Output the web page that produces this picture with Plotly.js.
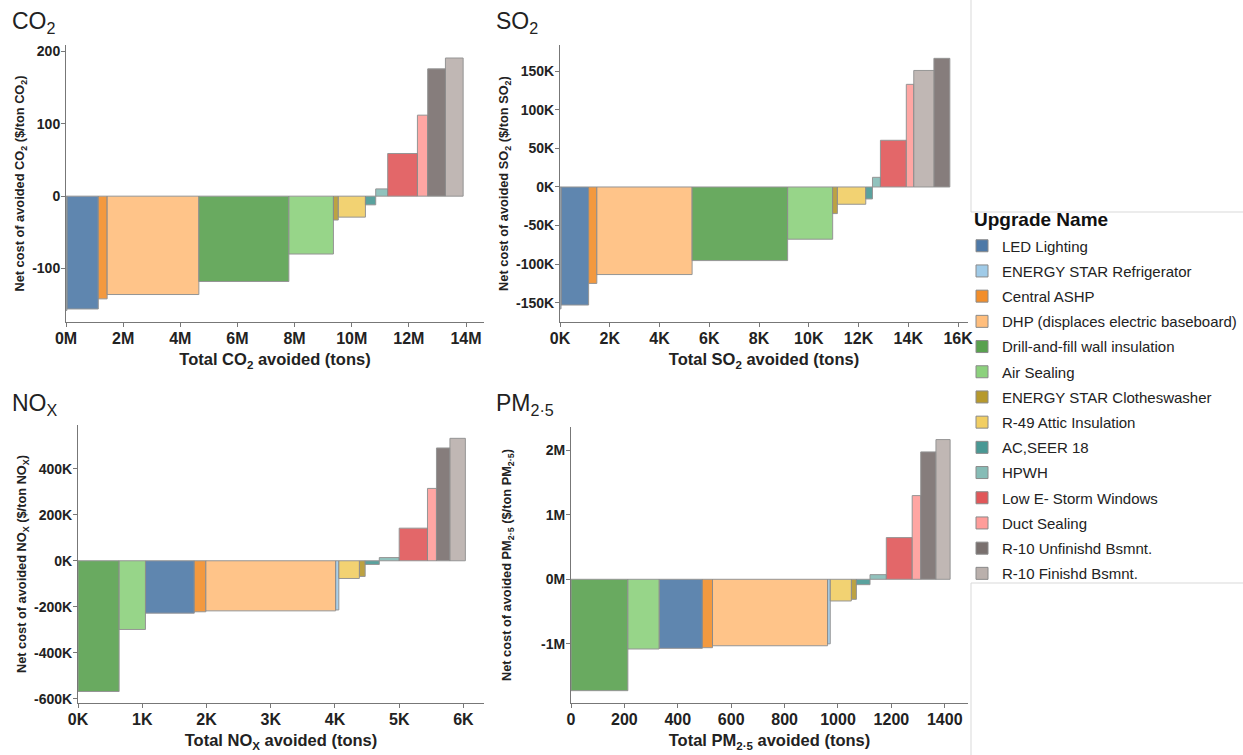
<!DOCTYPE html>
<html>
<head>
<meta charset="utf-8">
<script src="https://cdn.plot.ly/plotly-3.0.1.min.js"></script>
<style>html,body{margin:0;padding:0;background:#fff;width:1243px;height:755px;overflow:hidden;}#chart{width:1243px;height:755px;overflow:hidden;}</style>
</head>
<body>
<div id="chart"></div>
<script>
// Upgrade names (legend order) and colours
const upgrades = [
  "LED Lighting",
  "ENERGY STAR Refrigerator",
  "Central ASHP",
  "DHP (displaces electric baseboard)",
  "Drill-and-fill wall insulation",
  "Air Sealing",
  "ENERGY STAR Clotheswasher",
  "R-49 Attic Insulation",
  "AC,SEER 18",
  "HPWH",
  "Low E- Storm Windows",
  "Duct Sealing",
  "R-10 Unfinishd Bsmnt.",
  "R-10 Finishd Bsmnt."
];
const colors = ["#4e79a7","#a0cbe8","#f28e2b","#ffbe7d","#59a14f","#8cd17d","#b6992d",
                "#f1ce63","#499894","#86bcb6","#e15759","#ff9d9a","#79706e","#bab0ac"];

// CO2: tons avoided and net cost ($/ton), legend order
const co2Avoided = [1100000, 30000, 310000, 3210000, 3150000, 1560000, 170000, 950000, 360000, 420000, 1040000, 360000, 620000, 620000];
const co2Cost    = [-156, -158, -142, -136, -118, -80, -33, -29, -12, 10, 59, 112, 176, 191];

// SO2
const so2Avoided = [1110, 40, 330, 3830, 3840, 1810, 190, 1140, 270, 320, 1040, 300, 640, 810];
const so2Cost    = [-153000, -158000, -125000, -113500, -95400, -67700, -34500, -22400, -15500, 12500, 60500, 133000, 166700, 151000];

// NOx
const noxAvoided = [760, 50, 180, 2020, 640, 410, 90, 320, 220, 310, 440, 140, 210, 240];
const noxCost    = [-228000, -214000, -222000, -218000, -569000, -299000, -68000, -77000, -16000, 14000, 142000, 315000, 491000, 533000];

// PM2.5
const pmAvoided = [162, 10, 38, 431, 213, 117, 19, 79, 51, 61, 97, 32, 57, 53];
const pmCost    = [-1070000, -1000000, -1060000, -1030000, -1726000, -1080000, -310000, -336000, -83000, 72000, 646000, 1297000, 1974000, 2165000];

// Tick labels
const co2XVals = [0,2e6,4e6,6e6,8e6,10e6,12e6,14e6];
const co2XText = ["0M","2M","4M","6M","8M","10M","12M","14M"];
const co2YVals = [-100,0,100,200];
const co2YText = ["-100","0","100","200"];
const so2XVals = [0,2000,4000,6000,8000,10000,12000,14000,16000];
const so2XText = ["0K","2K","4K","6K","8K","10K","12K","14K","16K"];
const so2YVals = [-150000,-100000,-50000,0,50000,100000,150000];
const so2YText = ["-150K","-100K","-50K","0K","50K","100K","150K"];
const noxXVals = [0,1000,2000,3000,4000,5000,6000];
const noxXText = ["0K","1K","2K","3K","4K","5K","6K"];
const noxYVals = [-600000,-400000,-200000,0,200000,400000];
const noxYText = ["-600K","-400K","-200K","0K","200K","400K"];
const pmXVals = [0,200,400,600,800,1000,1200,1400];
const pmXText = ["0","200","400","600","800","1000","1200","1400"];
const pmYVals = [-1000000,0,1000000,2000000];
const pmYText = ["-1M","0M","1M","2M"];

const FONT = "Arial, 'Liberation Sans', sans-serif";

function panel(avoided, cost, xa, ya, showlegend) {
  const order = avoided.map((_, i) => i).sort((a, b) => cost[a] - cost[b]);
  const start = {};
  let acc = 0;
  order.forEach(i => { start[i] = acc; acc += avoided[i]; });
  return upgrades.map((name, i) => ({
    type: "bar",
    name: name,
    legendgroup: name,
    showlegend: showlegend,
    x: [start[i] + avoided[i] / 2],
    y: [cost[i]],
    width: [avoided[i]],
    xaxis: xa, yaxis: ya,
    marker: { color: colors[i], opacity: 0.9, line: { color: "#8a8a8a", width: 1 } },
    hovertemplate: name + "<br>Avoided: %{width}<br>Cost: %{y}<extra></extra>"
  }));
}

const data = [].concat(
  panel(co2Avoided, co2Cost, "x", "y", true),
  panel(so2Avoided, so2Cost, "x2", "y2", false),
  panel(noxAvoided, noxCost, "x3", "y3", false),
  panel(pmAvoided, pmCost, "x4", "y4", false)
);

const W = 1243, H = 755;
function xd(a, b) { return [a / W, b / W]; }
function yd(top, bottom) { return [1 - bottom / H, 1 - top / H]; }

function xaxis(dom, range, vals, text, title, anchor) {
  return {
    domain: dom, range: range, anchor: anchor,
    tickmode: "array", tickvals: vals, ticktext: text,
    showgrid: false, zeroline: false, showline: true, linecolor: "#777", linewidth: 1,
    ticks: "outside", ticklen: 4, tickcolor: "#777",
    ticklabelstandoff: -2,
    tickfont: { family: FONT, size: 16, color: "#222", weight: "bold" },
    title: { text: title, font: { family: FONT, size: 16.5, color: "#222", weight: "bold" }, standoff: 7 },
    automargin: false, fixedrange: true
  };
}
function yaxis(dom, range, vals, text, title, anchor, standoff) {
  return {
    domain: dom, range: range, anchor: anchor,
    tickmode: "array", tickvals: vals, ticktext: text,
    showgrid: false, zeroline: false, showline: true, linecolor: "#777", linewidth: 1,
    ticks: "outside", ticklen: 4, tickcolor: "#777",
    ticklabelstandoff: -2,
    tickfont: { family: FONT, size: 14, color: "#222", weight: "bold" },
    title: { text: title, font: { family: FONT, size: 12.8, color: "#222", weight: "bold" }, standoff: standoff },
    automargin: false, fixedrange: true
  };
}

const lineStyle = { color: "#d9d9d9", width: 1 };
const layout = {
  width: W, height: H,
  margin: { l: 0, r: 0, t: 0, b: 0 },
  paper_bgcolor: "#fff", plot_bgcolor: "#fff",
  barmode: "overlay",
  font: { family: FONT, color: "#222" },
  xaxis:  xaxis(xd(66, 484),  [0, 14.63e6], co2XVals, co2XText, "Total CO<sub>2</sub> avoided (tons)", "y"),
  yaxis:  yaxis(yd(45, 322),  [-174, 209], co2YVals, co2YText, "Net cost of avoided CO<sub>2</sub> ($/ton CO<sub>2</sub>)", "x", 4),
  xaxis2: xaxis(xd(560, 968), [0, 16400], so2XVals, so2XText, "Total SO<sub>2</sub> avoided (tons)", "y2"),
  yaxis2: yaxis(yd(45, 322),  [-175000, 184000], so2YVals, so2YText, "Net cost of avoided SO<sub>2</sub> ($/ton SO<sub>2</sub>)", "x2", 4),
  xaxis3: xaxis(xd(78, 484),  [0, 6320], noxXVals, noxXText, "Total NO<sub>X</sub> avoided (tons)", "y3"),
  yaxis3: yaxis(yd(425, 703), [-619000, 591000], noxYVals, noxYText, "Net cost of avoided NO<sub>X</sub> ($/ton NO<sub>X</sub>)", "x3", 4),
  xaxis4: xaxis(xd(571, 968), [0, 1487], pmXVals, pmXText, "Total PM<sub>2·5</sub> avoided (tons)", "y4"),
  yaxis4: yaxis(yd(427, 703), [-1917000, 2360000], pmYVals, pmYText, "Net cost of avoided PM<sub>2·5</sub> ($/ton PM<sub>2·5</sub>)", "x4", 26),
  showlegend: true,
  legend: {
    x: 962 / W, y: 1 - 229.5 / H, xanchor: "left", yanchor: "top",
    traceorder: "grouped", tracegroupgap: 2.7,
    font: { family: FONT, size: 15, color: "#222" },
    bgcolor: "rgba(0,0,0,0)", borderwidth: 0
  },
  annotations: [
    { text: "CO<sub>2</sub>", xref: "paper", yref: "paper", x: 10 / W, y: 1 - 22 / H, xanchor: "left", yanchor: "middle", showarrow: false, font: { family: FONT, size: 23, color: "#222" } },
    { text: "SO<sub>2</sub>", xref: "paper", yref: "paper", x: 494 / W, y: 1 - 22 / H, xanchor: "left", yanchor: "middle", showarrow: false, font: { family: FONT, size: 23, color: "#222" } },
    { text: "NO<sub>X</sub>", xref: "paper", yref: "paper", x: 10 / W, y: 1 - 404 / H, xanchor: "left", yanchor: "middle", showarrow: false, font: { family: FONT, size: 23, color: "#222" } },
    { text: "PM<sub>2·5</sub>", xref: "paper", yref: "paper", x: 494 / W, y: 1 - 404 / H, xanchor: "left", yanchor: "middle", showarrow: false, font: { family: FONT, size: 23, color: "#222" } },
    { text: "<b>Upgrade Name</b>", xref: "paper", yref: "paper", x: 972 / W, y: 1 - 220 / H, xanchor: "left", yanchor: "middle", showarrow: false, font: { family: FONT, size: 19, color: "#111" } }
  ],
  shapes: [
    { type: "line", xref: "paper", yref: "paper", x0: 971 / W, x1: 971 / W, y0: 1, y1: 1 - 212 / H, line: lineStyle },
    { type: "line", xref: "paper", yref: "paper", x0: 971 / W, x1: 1, y0: 1 - 212 / H, y1: 1 - 212 / H, line: lineStyle },
    { type: "line", xref: "paper", yref: "paper", x0: 971 / W, x1: 1, y0: 1 - 583 / H, y1: 1 - 583 / H, line: lineStyle },
    { type: "line", xref: "paper", yref: "paper", x0: 971 / W, x1: 971 / W, y0: 1 - 583 / H, y1: 0, line: lineStyle }
  ]
};

Plotly.newPlot("chart", data, layout, { displayModeBar: false });
</script>
</body>
</html>
